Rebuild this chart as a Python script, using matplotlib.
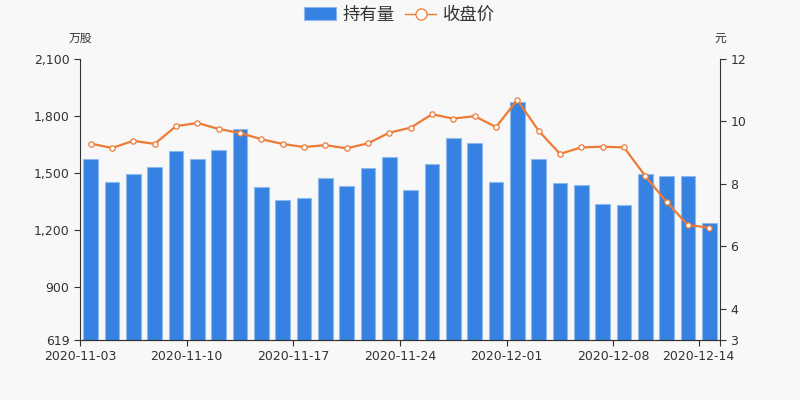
import matplotlib.pyplot as plt
import numpy as np

plt.rcParams['font.family'] = ['Noto Sans CJK SC', 'DejaVu Sans']

dates = ['2020-11-03', '2020-11-04', '2020-11-05', '2020-11-06',
         '2020-11-09', '2020-11-10', '2020-11-11', '2020-11-12', '2020-11-13',
         '2020-11-16', '2020-11-17', '2020-11-18', '2020-11-19', '2020-11-20',
         '2020-11-23', '2020-11-24', '2020-11-25', '2020-11-26', '2020-11-27',
         '2020-11-30', '2020-12-01', '2020-12-02', '2020-12-03', '2020-12-04',
         '2020-12-07', '2020-12-08', '2020-12-09', '2020-12-10', '2020-12-11',
         '2020-12-14']
holding = [1571, 1452, 1492, 1533, 1615, 1571, 1620, 1731, 1424, 1358,
           1369, 1471, 1431, 1527, 1582, 1411, 1548, 1682, 1656, 1454,
           1873, 1575, 1445, 1434, 1334, 1332, 1492, 1482, 1483, 1237]
close = [9.29, 9.15, 9.38, 9.28, 9.85, 9.95, 9.76, 9.63, 9.43, 9.28,
         9.18, 9.24, 9.14, 9.30, 9.64, 9.80, 10.23, 10.09, 10.17, 9.82,
         10.69, 9.70, 8.96, 9.17, 9.19, 9.17, 8.25, 7.42, 6.68, 6.60]
label_idx = [0, 5, 10, 15, 20, 25, 29]
left_ticks = [619, 900, 1200, 1500, 1800, 2100]
right_ticks = [3, 4, 6, 8, 10, 12]

bar_color = '#3582e2'
line_color = '#ee7b35'
axis_color = '#333333'
bg = '#f8f8f8'

fig = plt.figure(figsize=(8, 4), dpi=100, facecolor=bg)
ax = fig.add_axes([0.1, 0.15, 0.8, 0.7025])
ax.set_facecolor(bg)
x = np.arange(len(dates))
bars = ax.bar(x, holding, width=0.7, color=bar_color, edgecolor='#8fbaf0',
              linewidth=0.8, label='持有量', zorder=2)
ax.set_xlim(-0.5, len(dates) - 0.5)
ax.set_ylim(619, 2100)
ax.set_yticks(left_ticks)
ax.set_yticklabels([f'{v:,}' for v in left_ticks])
ax.set_xticks([i - 0.5 for i in label_idx] + [len(dates) - 0.5])
ax.set_xticklabels([dates[i] for i in label_idx] + [''])

ax2 = ax.twinx()
ln, = ax2.plot(x, close, color=line_color, linewidth=1.6, marker='o',
               markersize=3.8, markerfacecolor='white', markeredgecolor=line_color,
               markeredgewidth=0.9, label='收盘价', zorder=3)
ax2.set_ylim(3, 12)
ax2.set_yticks(right_ticks)

for a in (ax, ax2):
    a.spines['top'].set_visible(False)
    for s in ('left', 'right', 'bottom'):
        a.spines[s].set_color(axis_color)
    a.tick_params(colors=axis_color, labelsize=9, length=4, labelcolor='#333333')
    for lab in a.get_xticklabels() + a.get_yticklabels():
        lab.set_family('DejaVu Sans')
ax2.spines['left'].set_visible(False)
ax.spines['right'].set_visible(False)

fig.text(0.1, 0.905, '万股', ha='center', va='center', fontsize=8.5, color='#333333')
fig.text(0.9, 0.905, '元', ha='center', va='center', fontsize=8.5, color='#333333')

leg = fig.legend(handles=[bars, ln], loc='upper center', bbox_to_anchor=(0.5, 1.025),
                 ncol=2, frameon=False, fontsize=12.5, handlelength=1.8,
                 handletextpad=0.4, columnspacing=0.6, labelcolor='#333333')
leg.legend_handles[1].set_markersize(8)
leg.legend_handles[1].set_linewidth(1.0)

fig.savefig('out.png', dpi=100, facecolor=bg)
